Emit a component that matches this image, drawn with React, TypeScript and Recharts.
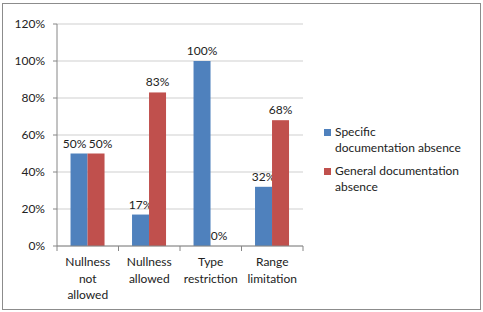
import React from 'react';
import { BarChart, Bar, XAxis, YAxis, CartesianGrid } from 'recharts';

const categories = [
  ['Nullness', 'not', 'allowed'],
  ['Nullness', 'allowed'],
  ['Type', 'restriction'],
  ['Range', 'limitation'],
];
const specificAbsence = [0.5, 0.17, 1.0, 0.32];
const generalAbsence = [0.5, 0.83, 0.0, 0.68];
const yTicks = [0, 0.2, 0.4, 0.6, 0.8, 1.0, 1.2];

const BLUE = '#4F81BD';
const RED = '#C0504D';
const FONT = 'Lato, "Liberation Sans", sans-serif';

const data = categories.map((lines, i) => ({
  name: lines.join(' '),
  lines,
  specific: specificAbsence[i],
  general: generalAbsence[i],
}));

const pct = (v: number) => `${Math.round(v * 100)}%`;

const CategoryTick = (props: any) => {
  const { x, y, payload, index, width, visibleTicksCount } = props;
  const band = width / visibleTicksCount;
  const lines: string[] = data[index]?.lines ?? [payload.value];
  return (
    <g>
      <line x1={x - band / 2} y1={y - 8} x2={x - band / 2} y2={y - 3} stroke="#868686" />
      {index === visibleTicksCount - 1 && (
        <line x1={x + band / 2} y1={y - 8} x2={x + band / 2} y2={y - 3} stroke="#868686" />
      )}
      {lines.map((l, i) => (
        <text key={i} x={x} y={y + 12 + i * 16.5} textAnchor="middle" fontSize={12} fill="#222" fontFamily={FONT}>
          {l}
        </text>
      ))}
    </g>
  );
};

// bar plus its value label; label nudged sideways when both bars of a group share a height
const makeShape = (key: 'specific' | 'general', side: number, color: string) => (props: any) => {
  const { x, y, width, height, payload } = props;
  const v = payload[key];
  const other = key === 'specific' ? payload.general : payload.specific;
  const dx = Math.abs(v - other) < 0.05 ? side * 4.5 : 0;
  const top = Math.min(y, y + height);
  return (
    <g>
      {Math.abs(height) > 0 && <rect x={x} y={top} width={width} height={Math.abs(height)} fill={color} />}
      <text x={x + width / 2 + dx} y={top - 6} textAnchor="middle" fontSize={12} fill="#222" fontFamily={FONT}>
        {pct(v)}
      </text>
    </g>
  );
};

const legendItems = [
  { color: BLUE, lines: ['Specific', 'documentation absence'] },
  { color: RED, lines: ['General documentation', 'absence'] },
];

export default function App() {
  return (
    <div style={{ position: 'absolute', left: 0, top: 0, width: 483, height: 312, background: '#fff', fontFamily: FONT }}>
      <div style={{ position: 'absolute', left: 2, top: 3, width: 477, height: 305, border: '1px solid #8c8c8c' }} />
      <BarChart
        width={483}
        height={312}
        data={data}
        margin={{ top: 24, right: 180, bottom: 0, left: 0 }}
        barCategoryGap="22%"
        barGap={0}
      >
        <CartesianGrid vertical={false} stroke="#cfcfcf" />
        <XAxis
          dataKey="name"
          height={66}
          tickLine={false}
          axisLine={{ stroke: '#868686' }}
          tick={<CategoryTick />}
          interval={0}
        />
        <YAxis
          width={57}
          domain={[0, 1.2]}
          ticks={yTicks}
          tickFormatter={pct}
          tickSize={4}
          tickMargin={8}
          axisLine={{ stroke: '#868686' }}
          tickLine={{ stroke: '#868686' }}
          tick={{ fontSize: 12, fill: '#222', fontFamily: FONT }}
        />
        <Bar dataKey="specific" fill={BLUE} isAnimationActive={false} shape={makeShape('specific', -1, BLUE)} />
        <Bar dataKey="general" fill={RED} isAnimationActive={false} shape={makeShape('general', 1, RED)} />
      </BarChart>
      <div style={{ position: 'absolute', left: 324, top: 124 }}>
        {legendItems.map((item, i) => (
          <div key={i} style={{ position: 'relative', height: 39, fontSize: 12, lineHeight: '15.5px', color: '#222' }}>
            <div style={{ position: 'absolute', left: 0, top: 5, width: 7, height: 7, background: item.color }} />
            <div style={{ marginLeft: 11 }}>
              {item.lines.map((l, j) => (
                <div key={j}>{l}</div>
              ))}
            </div>
          </div>
        ))}
      </div>
    </div>
  );
}
